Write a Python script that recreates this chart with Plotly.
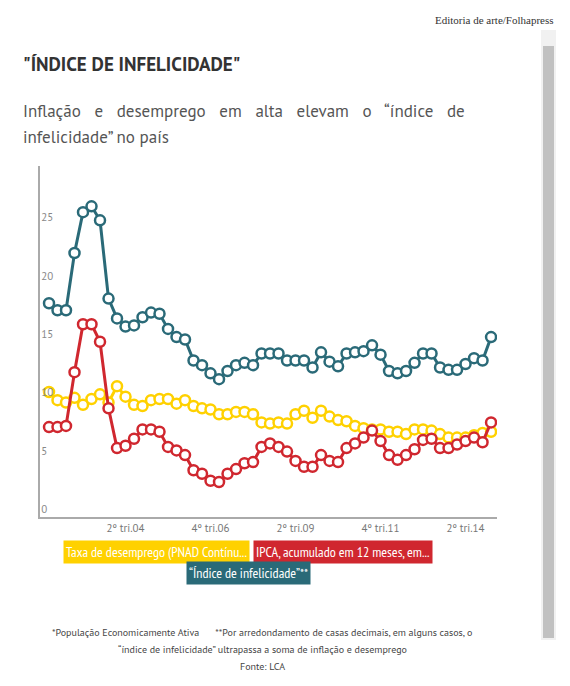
import plotly.graph_objects as go

quarters = list(range(53))  # 1º tri.02 .. 1º tri.15
tick_vals = [9, 19, 29, 39, 49]
tick_text = ["2º tri.04", "4º tri.06", "2º tri.09", "4º tri.11", "2º tri.14"]

desemprego = [10.7,10.0,9.8,10.2,9.6,10.1,10.5,9.8,11.2,10.3,9.6,9.5,10.0,10.1,10.1,9.7,10.0,9.5,9.3,9.2,
              8.8,8.8,9.0,9.0,8.8,8.1,
              8.0,8.1,8.0,8.8,9.1,8.5,9.1,8.6,8.3,8.2,7.8,7.6,7.5,7.5,7.3,7.3,7.1,7.5,7.5,7.4,7.1,6.8,6.8,6.8,7.0,7.2,7.3]
ipca = [7.7,7.7,7.8,12.4,16.5,16.5,15.0,9.3,5.9,6.1,6.7,7.5,7.5,7.3,6.0,5.7,5.3,4.0,3.7,3.1,
        3.0,3.7,4.1,4.6,4.7,6.0,
        6.3,6.0,5.6,4.8,4.3,4.3,5.3,4.8,4.7,5.9,6.3,6.8,7.4,6.5,5.3,4.9,5.3,5.8,6.6,6.7,5.9,5.9,6.2,6.5,6.8,6.4,8.1]
infelicidade = [18.3,17.7,17.7,22.6,26.1,26.6,25.4,18.7,17.0,16.3,16.4,17.1,17.5,17.4,16.1,15.4,15.2,13.4,13.0,12.3,
                11.8,12.5,13.0,13.2,13.0,14.0,
                14.0,14.0,13.4,13.4,13.4,12.8,14.1,13.3,12.9,14.0,14.1,14.2,14.7,13.9,12.5,12.3,12.5,13.2,14.0,14.0,12.8,12.6,12.6,13.1,13.6,13.4,15.4]

series = [
    ("Taxa de desemprego (PNAD Contínua)*", desemprego, "#ffd100"),
    ("IPCA, acumulado em 12 meses, em %", ipca, "#d0272f"),
    ("“Índice de infelicidade”**", infelicidade, "#2a6a78"),
]

W, H = 562, 678
L, R, T, B = 32, 73, 158, 169
PW, PH = W - L - R, H - T - B

fig = go.Figure()
for name, vals, col in series:
    fig.add_trace(go.Scatter(x=quarters, y=vals, name=name, mode="lines+markers",
                             line=dict(color=col, width=3),
                             marker=dict(symbol="circle", size=10, color="white",
                                         line=dict(color=col, width=2.5))))

fig.update_layout(
    width=W, height=H, paper_bgcolor="white", plot_bgcolor="white",
    margin=dict(l=L, r=R, t=T, b=B), showlegend=False,
    font=dict(family="PT Sans, Open Sans, sans-serif", color="#666"),
    xaxis=dict(range=[-1.06, 52.7], tickvals=tick_vals, ticktext=tick_text, showgrid=False,
               zeroline=False, showline=True, linecolor="#aaa", linewidth=1.5, ticks="",
               tickfont=dict(size=11, color="#777")),
    yaxis=dict(range=[0, 30.05], tickvals=[0, 5, 10, 15, 20, 25, 30], showgrid=False, zeroline=False,
               showline=True, linecolor="#aaa", linewidth=1.5, ticks="",
               ticklabelposition="inside top", tickfont=dict(size=11, color="#888")),
)

# positions given in reference page pixels (figure is offset 8px by page margin)
ann = [
    dict(text="Editoria de arte/Folhapress", x=556, y=20, xanchor="right", font=dict(family="Liberation Serif, serif", size=11, color="#333")),
    dict(text="<b>\"ÍNDICE DE INFELICIDADE\"</b>", x=21, y=64, xanchor="left", font=dict(size=19, color="#333")),
    dict(text="Inflação   e   desemprego   em   alta   elevam   o   “índice   de", x=21, y=111, xanchor="left", font=dict(size=17, color="#555")),
    dict(text="infelicidade” no país", x=21, y=137, xanchor="left", font=dict(size=17, color="#555")),
    dict(text="*População Economicamente Ativa      **Por arredondamento de casas decimais, em alguns casos, o", x=262, y=632, xanchor="center", font=dict(size=10, color="#444")),
    dict(text="“índice de infelicidade” ultrapassa a soma de inflação e desemprego", x=262, y=649, xanchor="center", font=dict(size=10, color="#444")),
    dict(text="Fonte: LCA", x=262, y=666, xanchor="center", font=dict(size=10, color="#444")),
]
legend_items = [
    ("Taxa de desemprego (PNAD Contínu...", "#ffd100", 156, 552),
    ("IPCA, acumulado em 12 meses, em...", "#d0272f", 343, 552),
    ("“Índice de infelicidade”**", "#2a6a78", 248, 573),
]
for t, c, x, y in legend_items:
    ann.append(dict(text=t, x=x, y=y, xanchor="center", bgcolor=c, borderpad=2,
                    font=dict(size=14, color="white", family="PT Sans Narrow, Liberation Sans Narrow, Roboto Condensed, sans-serif")))

def px(x): return (x - 8 - L) / PW
def py(y): return (H - B - (y - 8)) / PH

for a in ann:
    a.update(xref="paper", yref="paper", showarrow=False, yanchor="middle")
    a["x"] = px(a["x"])
    a["y"] = py(a["y"])
fig.update_layout(annotations=ann)

# scrollbar decoration
fig.add_shape(type="rect", xref="paper", yref="paper", x0=px(541), x1=px(556), y0=py(640), y1=py(30),
              fillcolor="#f1f1f1", line=dict(width=0), layer="below")
fig.add_shape(type="rect", xref="paper", yref="paper", x0=px(543), x1=px(554), y0=py(638), y1=py(46),
              fillcolor="#c1c1c1", line=dict(width=0), layer="below")

fig.write_html("out.html")
